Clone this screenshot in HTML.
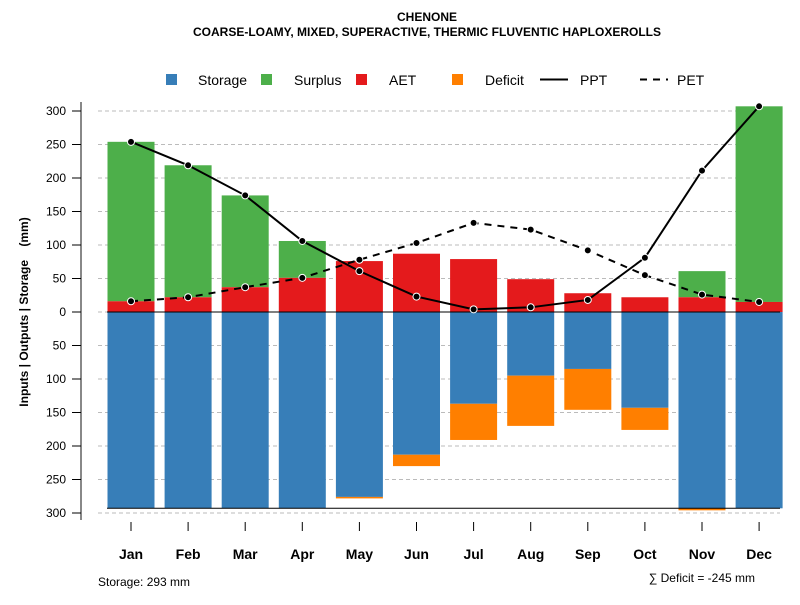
<!DOCTYPE html>
<html><head><meta charset="utf-8"><style>
body{margin:0;background:#fff;font-family:"Liberation Sans",sans-serif}
</style></head><body>
<svg id="c" width="800" height="600" xmlns="http://www.w3.org/2000/svg" font-family="Liberation Sans, sans-serif">
<text x="427" y="21" text-anchor="middle" font-size="12" font-weight="bold">CHENONE</text>
<text x="427" y="36" text-anchor="middle" font-size="12" font-weight="bold">COARSE-LOAMY, MIXED, SUPERACTIVE, THERMIC FLUVENTIC HAPLOXEROLLS</text>
<g id="legend" font-size="14">
<rect x="166" y="74" width="11" height="11" fill="#377eb8"/><text x="198" y="85">Storage</text>
<rect x="261" y="74" width="11" height="11" fill="#4daf4a"/><text x="294" y="85">Surplus</text>
<rect x="356" y="74" width="11" height="11" fill="#e41a1c"/><text x="389" y="85">AET</text>
<rect x="452" y="74" width="11" height="11" fill="#ff7f00"/><text x="485" y="85">Deficit</text>
<line x1="540" y1="79.5" x2="568" y2="79.5" stroke="#000" stroke-width="2"/><text x="580" y="85">PPT</text>
<line x1="640" y1="79.5" x2="668" y2="79.5" stroke="#000" stroke-width="2" stroke-dasharray="7,6"/><text x="677" y="85">PET</text>
</g>
<text transform="translate(28,312) rotate(-90)" text-anchor="middle" font-size="12" font-weight="bold">Inputs | Outputs | Storage &#160;&#160;&#160;(mm)</text>
<text x="98" y="586" font-size="12">Storage: 293 mm</text>
<text x="755" y="582" text-anchor="end" font-size="12">∑ Deficit = -245 mm</text>
<g id="plot"></g>
</svg>
<script>
const months=["Jan","Feb","Mar","Apr","May","Jun","Jul","Aug","Sep","Oct","Nov","Dec"];
const ppt=[254,219,174,106,61,23,4,7,18,81,211,307];
const pet=[16,22,37,51,78,103,133,123,92,55,26,15];
const aet=[16,22,37,51,76,87,79,49,28,22,22,15];
const surplus=[238,197,137,55,0,0,0,0,0,0,39,292];
const storage=[293,293,293,293,276,213,137,95,85,143,293,293];
const deficit=[0,0,0,0,2,17,54,75,61,33,3,0];
const yTicks=[300,250,200,150,100,50,0,50,100,150,200,250,300];
const yTickVals=[300,250,200,150,100,50,0,-50,-100,-150,-200,-250,-300];
const maxStorage=293;
const NS="http://www.w3.org/2000/svg";
const g=document.getElementById('plot');
const y=v=>312-v*0.67;
const x=i=>131+i*57.1;
const bw=47;
function mk(t,a){const e=document.createElementNS(NS,t);for(const k in a)e.setAttribute(k,a[k]);g.appendChild(e);return e;}
mk('line',{x1:81,y1:102,x2:81,y2:520,stroke:'#888','stroke-width':2});
yTickVals.forEach((v,i)=>{
 const l=mk('line',{x1:98,x2:780,y1:y(v),y2:y(v),stroke:'#bbb','stroke-dasharray':'4,3'});
 
 
 mk('line',{x1:72,x2:81,y1:y(v),y2:y(v),stroke:'#000'});
 const t=mk('text',{x:66,y:y(v)+4,'text-anchor':'end','font-size':12});
 t.textContent=yTicks[i];
 
 
});
months.forEach((m,i)=>{
 const cx=x(i);
 let r=mk('rect',{x:cx-bw/2,y:y(0),width:bw,height:y(-storage[i])-y(0),fill:'#377eb8'});
 
 
 if(deficit[i]>0){
  r=mk('rect',{x:cx-bw/2,y:y(-storage[i]),width:bw,height:Math.max(1.5,y(-storage[i]-deficit[i])-y(-storage[i])),fill:'#ff7f00'});
  
  
 }
 if(surplus[i]>0){
  const top=aet[i]+surplus[i];
  r=mk('rect',{x:cx-bw/2,y:y(top),width:bw,height:y(aet[i])-y(top),fill:'#4daf4a'});
  
  
 }
 r=mk('rect',{x:cx-bw/2,y:y(aet[i]),width:bw,height:y(0)-y(aet[i]),fill:'#e41a1c'});
 
 
 mk('line',{x1:cx,x2:cx,y1:522,y2:531,stroke:'#000'});
 const t=mk('text',{x:cx,y:559,'text-anchor':'middle','font-size':14,'font-weight':'bold'});
 t.textContent=m;
 
 
});
mk('line',{x1:107,x2:780,y1:y(0),y2:y(0),stroke:'#000'});
mk('line',{x1:107,x2:780,y1:y(-maxStorage),y2:y(-maxStorage),stroke:'#000'});
function series(arr,dash,name){
 const p=mk('polyline',{points:arr.map((v,i)=>x(i)+','+y(v)).join(' '),fill:'none',stroke:'#000','stroke-width':2,'stroke-dasharray':dash});
 
 
 arr.forEach((v,i)=>{
  const c=mk('circle',{cx:x(i),cy:y(v),r:3.5,fill:'#000',stroke:'#fff','stroke-width':1});
  
  
 });
}
series(pet,'7,6','pet');
series(ppt,'none','ppt');
</script>
</body></html>
